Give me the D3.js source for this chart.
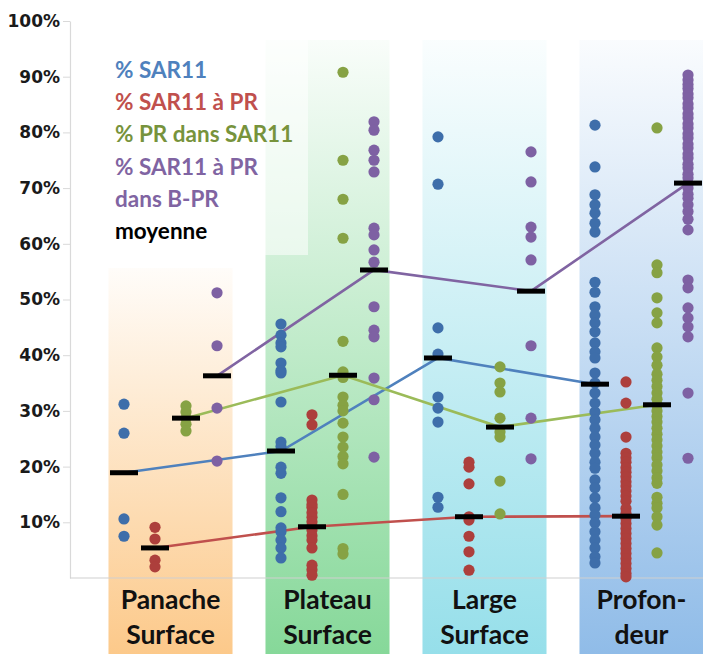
<!DOCTYPE html>
<html><head><meta charset="utf-8">
<script src="https://cdnjs.cloudflare.com/ajax/libs/d3/7.8.5/d3.min.js"></script>
<style>
html,body{margin:0;padding:0;background:#fff;}
svg{display:block;}
</style>
</head><body>
<svg id="chart" width="703" height="654"></svg>
<script>
// ---------- DATA ----------
const categories = ["Panache Surface", "Plateau Surface", "Large Surface", "Profondeur"];
const categoryLabels = [["Panache", "Surface"], ["Plateau", "Surface"], ["Large", "Surface"], ["Profon-", "deur"]];
const seriesKeys = ["sar11", "sar11PR", "prInSar11", "sar11PRinBPR"];
const seriesNames = ["% SAR11", "% SAR11 à PR", "% PR dans SAR11", "% SAR11 à PR dans B-PR"];
const yTicks = [10, 20, 30, 40, 50, 60, 70, 80, 90, 100];

// % SAR11 (blue) – per category
const sar11Values = [
  [31.2, 26.0, 10.6, 7.5],
  [45.6, 43.6, 42.2, 41.5, 38.6, 37.2, 36.8, 31.6, 24.4, 23.6, 19.9, 18.8, 14.4, 11.9, 9.0, 8.3, 6.8, 5.4, 3.6],
  [79.2, 70.7, 44.9, 40.2, 32.5, 30.5, 28.0, 14.5, 12.7],
  [81.3, 73.8, 68.8, 67.0, 65.5, 63.7, 62.1, 53.1, 51.3, 48.7, 47.2, 45.8, 44.2, 42.2, 40.6, 39.5, 36.8, 35.0, 33.2, 31.4,
   29.8, 28.4, 26.9, 25.3, 23.9, 22.4, 20.8, 19.7, 17.6, 16.2, 14.4, 12.6, 11.3, 9.9, 8.3, 6.8, 5.4, 3.8, 2.7]
];
// % SAR11 à PR (red)
const sar11PRValues = [
  [9.1, 7.0, 3.2, 2.0],
  [29.3, 27.5, 14.0, 13.2, 12.7, 11.7, 10.9, 10.1, 9.3, 8.6, 7.6, 6.8, 5.4, 2.3, 1.5, 0.5],
  [20.8, 19.9, 16.9, 11.0, 10.4, 7.5, 4.7, 1.4],
  [35.2, 31.4, 25.3, 22.4, 21.6, 20.8, 19.8, 19.0, 18.2, 17.3, 16.5, 15.6, 14.7, 13.8, 12.5, 11.6, 10.7, 9.8, 8.9, 8.0,
   7.1, 6.2, 5.3, 4.4, 3.5, 2.6, 1.7, 0.8, 0.2]
];
// % PR dans SAR11 (green)
const prInSar11Values = [
  [30.9, 29.8, 28.7, 27.6, 26.4],
  [90.8, 75.0, 68.0, 61.0, 42.5, 37.0, 36.0, 32.5, 31.0, 30.0, 27.8, 25.3, 23.5, 21.8, 20.5, 15.0, 5.3, 4.3],
  [37.9, 35.0, 33.4, 28.7, 26.2, 25.3, 17.4, 11.5],
  [80.8, 56.2, 54.8, 50.3, 47.6, 45.8, 41.3, 39.7, 38.2, 36.6, 35.5, 34.4, 33.2, 32.1, 31.0, 30.0, 29.0, 28.0, 26.9, 25.8,
   24.8, 23.7, 22.6, 21.6, 20.3, 19.2, 18.0, 17.0, 14.5, 13.4, 12.6, 11.0, 9.5, 4.5]
];
// % SAR11 à PR dans B-PR (purple)
const sar11PRinBPRValues = [
  [51.2, 41.7, 30.5, 21.0],
  [81.9, 80.4, 76.8, 75.0, 72.9, 62.8, 61.6, 58.9, 56.7, 48.7, 44.5, 43.3, 35.9, 32.0, 21.7],
  [76.5, 71.1, 63.0, 61.2, 57.1, 41.7, 28.7, 21.4],
  [90.3, 89.4, 88.6, 87.9, 86.9, 86.2, 85.1, 84.4, 83.3, 82.6, 81.5, 80.8, 79.7, 79.0, 77.9, 77.2, 76.1, 75.4, 74.3, 73.6,
   72.5, 71.8, 70.7, 70.0, 68.9, 68.2, 67.0, 65.8, 64.4, 62.5, 53.5, 52.1, 48.5, 46.7, 45.1, 43.3, 33.2, 21.5]
];
// moyennes
const sar11Means = [18.9, 22.8, 39.5, 34.8];
const sar11PRMeans = [5.4, 9.2, 11.0, 11.1];
const prInSar11Means = [28.7, 36.4, 27.1, 31.1];
const sar11PRinBPRMeans = [36.3, 55.3, 51.5, 70.9];

// ---------- STYLE ----------
const dotColors = ["#3e6eaa", "#ad3f3c", "#86a244", "#7e61a3"];
const lineColors = ["#4f81bd", "#c0504d", "#9bbb59", "#8064a2"];
const legendColors = ["#4f81bd", "#c0504d", "#77933c", "#8064a2"];
const bandColors = ["#fcc98a", "#86d899", "#96dfea", "#90bce8"];
const bandTops = [268, 40, 40, 40];

const allValues = [sar11Values, sar11PRValues, prInSar11Values, sar11PRinBPRValues];
const allMeans = [sar11Means, sar11PRMeans, prInSar11Means, sar11PRinBPRMeans];

const W = 703, H = 654;
const svg = d3.select("#chart");

const x = d3.scaleBand().domain(categories).range([92, 720]).paddingInner(0.21).paddingOuter(0.105);
const xs = d3.scaleBand().domain(seriesKeys).range([0, x.bandwidth()]).padding(0);
const y = d3.scaleLinear().domain([0, 100]).range([578, 21]);

const sx = (ci, si) => x(categories[ci]) + xs(seriesKeys[si]) + xs.bandwidth() / 2;

// gradients
const defs = svg.append("defs");
categories.forEach((c, i) => {
  const g = defs.append("linearGradient").attr("id", "g" + i)
    .attr("x1", 0).attr("x2", 0).attr("y1", 0).attr("y2", 1);
  g.append("stop").attr("offset", "0%").attr("stop-color", bandColors[i]).attr("stop-opacity", 0.05);
  g.append("stop").attr("offset", "100%").attr("stop-color", bandColors[i]).attr("stop-opacity", 1);
});

svg.append("g").selectAll("rect").data(categories).join("rect")
  .attr("x", d => x(d))
  .attr("y", (d, i) => bandTops[i])
  .attr("width", x.bandwidth())
  .attr("height", (d, i) => H - bandTops[i])
  .attr("fill", (d, i) => `url(#g${i})`);

// legend box (semi-transparent)
svg.append("rect").attr("x", 100).attr("y", 40).attr("width", 208).attr("height", 215)
  .attr("fill", "#fff").attr("opacity", 0.55);

// axes
const yAxis = d3.axisLeft(y).tickValues(yTicks).tickFormat(d => d + "%").tickSize(7).tickPadding(3).tickSizeOuter(0);
const gy = svg.append("g").attr("transform", "translate(70,0)").call(yAxis);
gy.select(".domain").attr("stroke", "#d9d9d9").attr("stroke-width", 1.2);
gy.selectAll(".tick line").attr("stroke", "#d9d9d9");
gy.selectAll(".tick text").attr("fill", "#1a1a1a")
  .style("font-family", "'DejaVu Sans', Verdana, sans-serif").style("font-weight", "bold").style("font-size", "17px");

svg.append("line").attr("x1", 70).attr("x2", W).attr("y1", y(0)).attr("y2", y(0))
  .attr("stroke", "#d0d0d0").attr("stroke-width", 1.2);

// mean lines
seriesKeys.forEach((k, si) => {
  const line = d3.line().x((d, ci) => sx(ci, si)).y(d => y(d));
  svg.append("path").datum(allMeans[si]).attr("d", line)
    .attr("fill", "none").attr("stroke", lineColors[si]).attr("stroke-width", 2.6);
});

// dots
seriesKeys.forEach((k, si) => {
  const pts = [];
  allValues[si].forEach((arr, ci) => arr.forEach(v => pts.push({ ci, v })));
  svg.append("g").selectAll("circle").data(pts).join("circle")
    .attr("cx", d => sx(d.ci, si)).attr("cy", d => y(d.v)).attr("r", 5.6)
    .attr("fill", dotColors[si]);
});

// mean markers
seriesKeys.forEach((k, si) => {
  svg.append("g").selectAll("rect").data(allMeans[si]).join("rect")
    .attr("x", (d, ci) => sx(ci, si) - 14).attr("y", d => y(d) - 2.5)
    .attr("width", 28).attr("height", 5).attr("fill", "#000");
});

// category labels
const cl = svg.append("g").style("font-family", "Lato, 'Open Sans', sans-serif")
  .style("font-weight", "bold").style("font-size", "26.5px").attr("fill", "#111").attr("text-anchor", "middle");
categoryLabels.forEach((lines, i) => {
  lines.forEach((t, j) => {
    cl.append("text").attr("x", x(categories[i]) + x.bandwidth() / 2).attr("y", 609 + j * 35).text(t);
  });
});

// legend
const legendLines = [
  { t: "% SAR11", c: legendColors[0] },
  { t: "% SAR11 à PR", c: legendColors[1] },
  { t: "% PR dans SAR11", c: legendColors[2] },
  { t: "% SAR11 à PR", c: legendColors[3] },
  { t: "dans B-PR", c: legendColors[3] },
  { t: "moyenne", c: "#000" }
];
const lg = svg.append("g").style("font-family", "Lato, 'Open Sans', sans-serif")
  .style("font-weight", "bold").style("font-size", "22.5px");
lg.selectAll("text").data(legendLines).join("text")
  .attr("x", 115).attr("y", (d, i) => 78 + i * 32.2).attr("fill", d => d.c).text(d => d.t);
</script>
</body></html>
